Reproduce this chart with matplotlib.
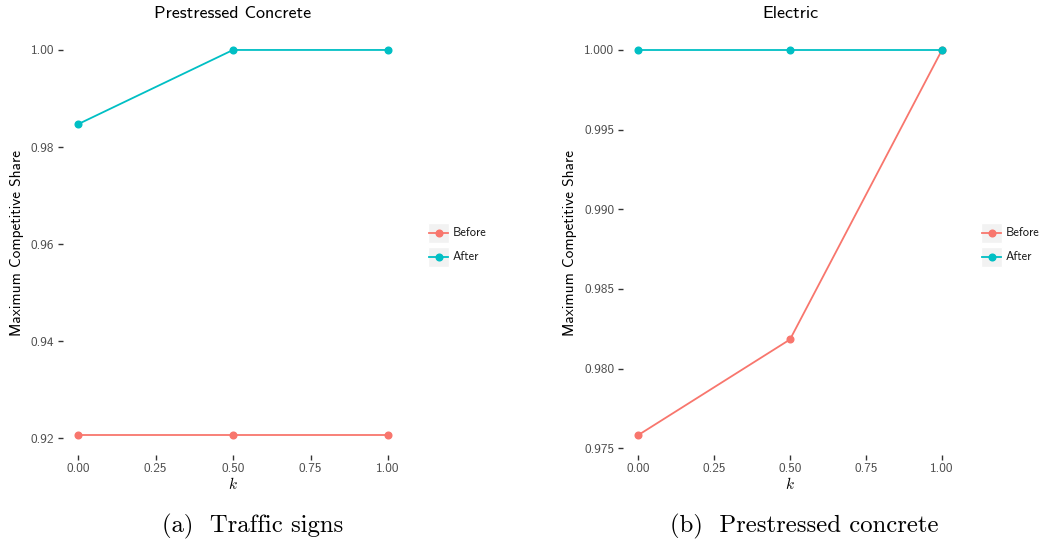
import matplotlib
matplotlib.use("Agg")
import matplotlib.pyplot as plt
from matplotlib.lines import Line2D
from matplotlib.patches import Rectangle

plt.rcParams['mathtext.fontset'] = 'cm'

# data
k = [0.0, 0.5, 1.0]
series = ["Before", "After"]
colors = {"Before": "#F8766D", "After": "#00BFC4"}

left_title = "Prestressed Concrete"
left_vals = {"Before": [0.9206, 0.9206, 0.9206],
             "After": [0.9847, 1.0, 1.0]}
left_yticks = [0.92, 0.94, 0.96, 0.98, 1.00]
left_fmt = "{:.2f}"

right_title = "Electric"
right_vals = {"Before": [0.97582, 0.98183, 1.0],
              "After": [1.0, 1.0, 1.0]}
right_yticks = [0.975, 0.980, 0.985, 0.990, 0.995, 1.000]
right_fmt = "{:.3f}"

xticks = [0.0, 0.25, 0.5, 0.75, 1.0]
captions = ["(a)  Traffic signs", "(b)  Prestressed concrete"]

W, H = 1042, 548
fig = plt.figure(figsize=(W / 100, H / 100), dpi=100)

sans = 'cmss10'
tick_col = '#4D4D4D'


def expand(vals):
    lo = min(min(v) for v in vals.values())
    hi = max(max(v) for v in vals.values())
    d = (hi - lo) * 0.05
    return lo - d, hi + d


def panel(x0, x1, title, vals, yticks, fmt, legx, caption, capx):
    y0, y1 = 30.7, 454.5
    ax = fig.add_axes([x0 / W, 1 - y1 / H, (x1 - x0) / W, (y1 - y0) / H])
    for s in series:
        ax.plot(k, vals[s], color=colors[s], lw=1.3, marker='o', ms=4.8,
                zorder=3)
    ax.set_xlim(-0.05, 1.05)
    ax.set_ylim(*expand(vals))
    for sp in ax.spines.values():
        sp.set_visible(False)
    ax.set_xticks(xticks)
    ax.set_xticklabels(["{:.2f}".format(t) for t in xticks])
    ax.set_yticks(yticks)
    ax.set_yticklabels([fmt.format(t) for t in yticks])
    ax.tick_params(length=3.5, width=1.0, color='#333333', labelcolor=tick_col,
                   labelsize=9.6, pad=2.5)
    for lab in ax.get_xticklabels() + ax.get_yticklabels():
        lab.set_fontfamily(sans)
    ax.set_title(title, fontfamily=sans, fontsize=13, pad=9)
    ax.set_xlabel(r"$k$", fontsize=11, labelpad=1)
    ax.set_ylabel("Maximum Competitive Share", fontfamily=sans, fontsize=11,
                  labelpad=5)

    # legend drawn in figure pixels
    for i, s in enumerate(series):
        cy = 233 + i * 24
        fig.patches.append(Rectangle((legx / W, 1 - (cy + 10) / H), 21 / W, 20 / H,
                                     transform=fig.transFigure,
                                     facecolor='#F2F2F2', edgecolor='white',
                                     lw=1))
        fig.lines.append(Line2D([(legx + 1) / W, (legx + 20) / W],
                                [1 - cy / H, 1 - cy / H],
                                transform=fig.transFigure, color=colors[s],
                                lw=1.3, marker=None))
        fig.lines.append(Line2D([(legx + 10.5) / W], [1 - cy / H],
                                transform=fig.transFigure, color=colors[s],
                                marker='o', ms=4.8, ls='none'))
        fig.text((legx + 25) / W, 1 - cy / H, s, fontfamily=sans, fontsize=9,
                 va='center', ha='left', color='#1A1A1A')

    fig.text(capx / W, 1 - 526 / H, caption, fontfamily='cmr10',
             fontsize=17.8, ha='center', va='center')
    return ax


panel(62.5, 403.5, left_title, left_vals, left_yticks, left_fmt, 428, captions[0], 253)
panel(622.8, 957.2, right_title, right_vals, right_yticks, right_fmt, 981, captions[1], 804)

fig.savefig("out.png", dpi=100, facecolor='white')
